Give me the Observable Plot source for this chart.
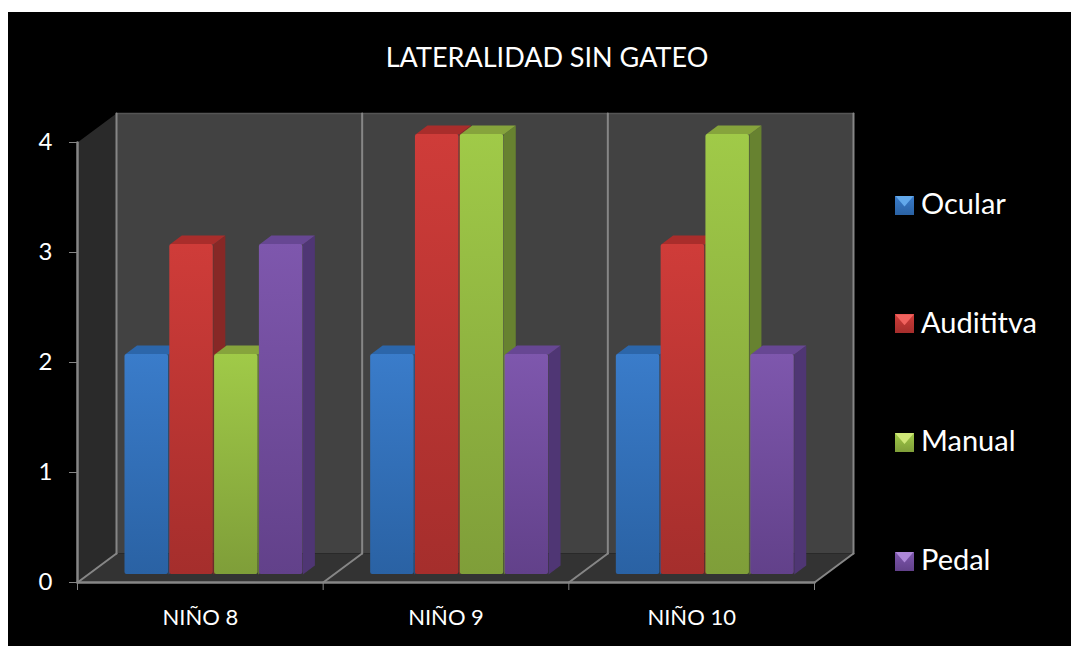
<!DOCTYPE html>
<html>
<head>
<meta charset="utf-8">
<script src="https://cdn.jsdelivr.net/npm/d3@7"></script>
<script src="https://cdn.jsdelivr.net/npm/@observablehq/plot@0.6"></script>
<style>
  html, body { margin: 0; padding: 0; background: #fff; }
  #stage { position: relative; width: 1071px; height: 646px; overflow: hidden; font-family: Lato, "Open Sans", sans-serif; }
  #panel { position: absolute; left: 8px; top: 12px; right: 0; bottom: 0; background: #000; }
  #title { position: absolute; left: 8px; width: 1078px; top: 40px; text-align: center; color: #fff; font-size: 27px; line-height: 34px; font-weight: 400; margin: 0; }
  #chart { position: absolute; left: 0; top: 0; }
  #legend { position: absolute; left: 895px; top: 175.5px; color: #fff; font-size: 29px; }
  .item { height: 118.7px; display: flex; align-items: flex-start; }
  .item .row { display: flex; align-items: center; height: 54px; }
  .swatch { width: 19px; height: 19px; margin-right: 7px; position: relative; flex: none; top: 2.5px; }
  .swatch::after { content: ""; position: absolute; left: 0; right: 0; top: 0; height: 11px; background: var(--hi); clip-path: polygon(0 0, 100% 0, 50% 100%); }
</style>
</head>
<body>
<div id="stage">
  <div id="panel"></div>
  <div id="chart"></div>
  <h1 id="title">LATERALIDAD SIN GATEO</h1>
  <div id="legend"></div>
</div>
<script>
const categories = ["NIÑO 8", "NIÑO 9", "NIÑO 10"];
const seriesNames = ["Ocular", "Audititva", "Manual", "Pedal"];
const ocular = [2, 2, 2];
const auditiva = [3, 4, 3];
const manual = [2, 4, 4];
const pedal = [3, 2, 2];
const seriesValues = [ocular, auditiva, manual, pedal];
const yTicks = [0, 1, 2, 3, 4];

// styling of the faces: [gradient top, gradient bottom, top face, side face, legend highlight]
const faces = [
  ["#3a7cca", "#2a62a4", "#2c66aa", "#24548c", "#62a8ea"],
  ["#cf3c39", "#a52e2c", "#a92d2b", "#872826", "#f0625e"],
  ["#a0ca48", "#7f9e39", "#86a43c", "#678230", "#cfe878"],
  ["#7e57ad", "#62418a", "#674793", "#4f3674", "#ae88d8"]
];

// oblique projection and layout, in data units of the two scales
const unitX = 737 / 3, unitY = 110;
const wallDX = 39 / unitX, wallDY = 29 / unitY;
const barDX = 12 / unitX, barDY = 9 / unitY;
const barStart = 47.5 / unitX, barW = 43.5 / unitX, barStep = 44.8 / unitX;
const barBase = 8 / unitY;
const yMax = d3.max(yTicks), nCat = categories.length;

const poly = (pts, fill) => Plot.line(pts, {x: d => d[0], y: d => d[1], fill, stroke: "none"});
const seg = (pts, stroke, strokeWidth) => Plot.line(pts, {x: d => d[0], y: d => d[1], stroke, strokeWidth});

const defs = () => {
  const el = document.createElementNS("http://www.w3.org/2000/svg", "defs");
  el.innerHTML = faces.map((f, i) =>
    `<linearGradient id="g${i}" x1="0" y1="0" x2="0" y2="1"><stop offset="0" stop-color="${f[0]}"/><stop offset="1" stop-color="${f[1]}"/></linearGradient>`
  ).join("");
  return el;
};

const bars = seriesValues.flatMap((vals, s) => vals.map((v, c) => {
  const x0 = c + barStart + s * barStep, x1 = x0 + barW, top = v + barBase;
  return {s, c, v, x0, x1, top};
}));

const sides = bars.map(b => poly([[b.x1, barBase], [b.x1 + barDX, barBase + barDY], [b.x1 + barDX, b.top + barDY], [b.x1, b.top]], faces[b.s][3]));
const tops = bars.map(b => poly([[b.x0, b.top], [b.x0 + barDX, b.top + barDY], [b.x1 + barDX, b.top + barDY], [b.x1, b.top]], faces[b.s][2]));
const fronts = seriesNames.map((_, s) => Plot.rect(bars.filter(b => b.s === s), {
  x1: "x0", x2: "x1", y1: () => barBase, y2: "top", fill: `url(#g${s})`, rx: 2
}));

const xBounds = d3.range(nCat + 1);

const plot = Plot.plot({
  width: 1071, height: 646,
  marginLeft: 77, marginRight: 257, marginTop: 142, marginBottom: 64,
  x: {type: "linear", domain: [0, nCat], axis: null},
  y: {type: "linear", domain: [0, yMax], axis: null},
  style: {background: "transparent", fontFamily: "Lato, sans-serif", overflow: "visible"},
  marks: [
    defs,
    poly([[0, 0], [wallDX, wallDY], [wallDX, yMax + wallDY], [0, yMax]], "#2a2a2a"),
    poly([[wallDX, wallDY], [nCat + wallDX, wallDY], [nCat + wallDX, yMax + wallDY], [wallDX, yMax + wallDY]], "#424242"),
    poly([[0, 0], [wallDX, wallDY], [nCat + wallDX, wallDY], [nCat, 0]], "#333333"),
    seg([[wallDX, yMax + wallDY], [nCat + wallDX, yMax + wallDY]], "#555555", 1.5),
    ...xBounds.map(i => seg([[i + wallDX, wallDY], [i + wallDX, yMax + wallDY]], "#868686", 2)),
    ...xBounds.map(i => seg([[i, 0], [i + wallDX, wallDY]], "#868686", 2)),
    ...sides,
    ...tops,
    ...fronts,
    seg([[0, 0], [0, yMax]], "#868686", 2.5),
    seg([[0, 0], [nCat, 0]], "#868686", 2.5),
    Plot.axisY({ticks: yTicks, tickSize: 8, tickPadding: 17, stroke: "#868686", fill: "#fff", fontSize: 24, label: null, tickFormat: d3.format("d")}),
    Plot.axisX({ticks: xBounds, tickSize: 8, stroke: "#868686", fill: "none", label: null, tickFormat: () => ""}),
    Plot.text(categories, {x: (d, i) => i + 0.5, y: () => 0, text: d => d, fill: "#fff", fontSize: 22, dy: 35})
  ]
});
document.getElementById("chart").appendChild(plot);

const legend = document.getElementById("legend");
seriesNames.forEach((name, s) => {
  const item = document.createElement("div");
  item.className = "item";
  const f = faces[s];
  item.innerHTML = `<div class="row"><span class="swatch" style="background:linear-gradient(${f[0]},${f[1]});--hi:${f[4]}"></span><span>${name}</span></div>`;
  legend.appendChild(item);
});
</script>
</body>
</html>
